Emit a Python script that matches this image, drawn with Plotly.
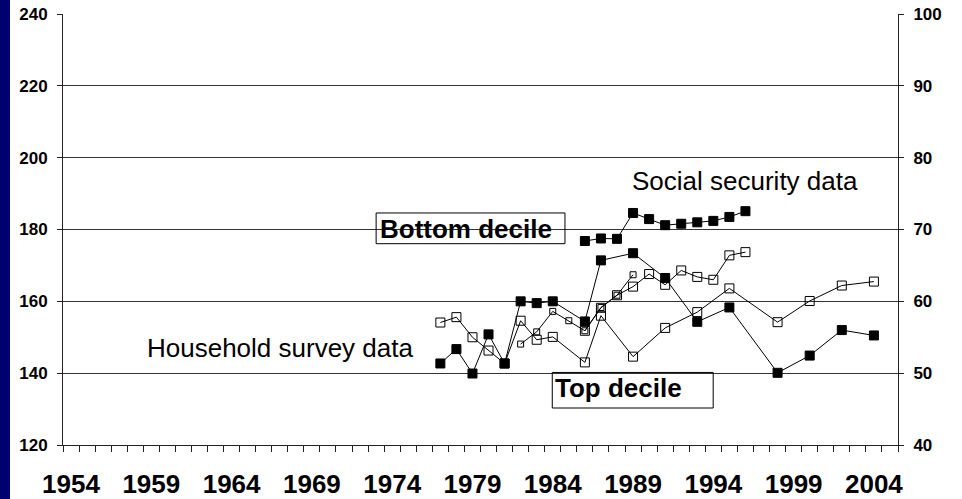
import plotly.graph_objects as go

# ---------------- data ----------------
# Social security data (annual)
ss_years = [1986, 1987, 1988, 1989, 1990, 1991, 1992, 1993, 1994, 1995, 1996]
ss_bottom = [68.4, 68.75, 68.7, 72.3, 71.45, 70.6, 70.8, 71.0, 71.2, 71.75, 72.55]   # right axis
ss_top = [151.8, 158.2, 161.7, 164.1, 167.6, 164.6, 168.6, 166.8, 166.0, 172.8, 173.7]  # left axis

ss_alt_years = [1982, 1983, 1984, 1985, 1986, 1987, 1988, 1989]
ss_top_alt = [148.1, 151.5, 157.2, 154.6, 151.8, 158.3, 161.7, 167.4]  # left axis

# Household survey data
hh_years = [1977, 1978, 1979, 1980, 1981, 1982, 1983, 1984, 1986, 1987,
            1989, 1991, 1993, 1995, 1998, 2000, 2002, 2004]
hh_bottom = [51.35, 53.35, 49.95, 55.4, 51.35, 60.0, 59.75, 60.0, 57.2, 65.7,
             66.7, 63.25, 57.15, 59.15, 50.05, 52.45, 56.0, 55.25]  # right axis
hh_top = [154.1, 155.6, 150.0, 146.3, 142.7, 154.6, 149.3, 150.1, 143.0, 156.0,
          144.6, 152.6, 157.0, 163.6, 154.2, 160.1, 164.4, 165.5]  # left axis

x_tick_years = [1954, 1959, 1964, 1969, 1974, 1979, 1984, 1989, 1994, 1999, 2004]
left_ticks = [120, 140, 160, 180, 200, 220, 240]
right_ticks = [40, 50, 60, 70, 80, 90, 100]

FONT = "Liberation Sans, Arial, sans-serif"

fig = go.Figure()

def add(x, y, axis, symbol, size):
    fig.add_trace(go.Scatter(
        x=x, y=y, yaxis=axis, mode="lines+markers",
        line=dict(color="black", width=1),
        marker=dict(symbol=symbol, size=size, color="black",
                    line=dict(color="black", width=1)),
        showlegend=False, hoverinfo="x+y"))

add(hh_years, hh_top, "y", "square-open", 9)
add(ss_alt_years, ss_top_alt, "y", "square-open", 6)
add(ss_years, ss_top, "y", "square-open", 9)
add(hh_years, hh_bottom, "y2", "square", 9)
add(ss_years, ss_bottom, "y2", "square", 9)

# text labels
fig.add_annotation(x=1958.6, y=147.1, xref="x", yref="y", text="Household survey data",
                   showarrow=False, xanchor="left", yanchor="middle",
                   font=dict(family=FONT, size=26, color="black"))
fig.add_annotation(x=1988.8, y=193.4, xref="x", yref="y", text="Social security data",
                   showarrow=False, xanchor="left", yanchor="middle",
                   font=dict(family=FONT, size=26, color="black"))
fig.add_annotation(x=1973.1, y=180.1, xref="x", yref="y", text="Bottom decile",
                   showarrow=False, xanchor="left", yanchor="middle",
                   font=dict(family=FONT, size=26, color="black", weight="bold"))
fig.add_annotation(x=1984.0, y=136.0, xref="x", yref="y", text="Top decile",
                   showarrow=False, xanchor="left", yanchor="middle",
                   font=dict(family=FONT, size=26, color="black", weight="bold"))

# boxes around the decile labels
fig.add_shape(type="rect", xref="x", yref="y", x0=1973.0, x1=1984.76, y0=176.05, y1=184.6,
              line=dict(color="black", width=1), fillcolor="rgba(0,0,0,0)")
fig.add_shape(type="rect", xref="x", yref="y", x0=1983.97, x1=1993.99, y0=130.3, y1=140.2,
              line=dict(color="black", width=1), fillcolor="rgba(0,0,0,0)")

# navy strip at the left edge
fig.add_shape(type="rect", xref="paper", yref="paper", x0=-0.0760, x1=-0.0635,
              y0=-0.2, y1=1.1, line=dict(width=0), fillcolor="#00006e", layer="below")

fig.update_layout(
    width=962, height=499,
    margin=dict(l=63, r=64, t=14, b=54),
    paper_bgcolor="white", plot_bgcolor="white",
    font=dict(family=FONT, color="black"),
    xaxis=dict(
        range=[1953.5, 2005.5], tickmode="array", tickvals=x_tick_years,
        ticktext=[str(v) for v in x_tick_years], automargin=False,
        ticks="", ticklabelstandoff=16,
        tickfont=dict(family=FONT, size=26, color="black", weight="bold"),
        showgrid=False, zeroline=False, showline=True, linecolor="#222", linewidth=1,
        minor=dict(tickmode="array", tickvals=[1953.5 + i for i in range(53)],
                   ticks="outside", ticklen=6, tickcolor="#222", tickwidth=1, showgrid=False),
    ),
    yaxis=dict(
        range=[120, 240], tickmode="array", tickvals=left_ticks, automargin=False,
        ticks="outside", ticklen=5, tickcolor="#222", ticklabelstandoff=6,
        tickfont=dict(family=FONT, size=17, color="black", weight="bold"),
        showgrid=True, gridcolor="#333", gridwidth=1, zeroline=False,
        showline=True, linecolor="#222", linewidth=1,
    ),
    yaxis2=dict(
        range=[40, 100], tickmode="array", tickvals=right_ticks, overlaying="y", side="right",
        automargin=False, ticks="outside", ticklen=5, tickcolor="#222", ticklabelstandoff=6,
        tickfont=dict(family=FONT, size=17, color="black", weight="bold"),
        showgrid=False, zeroline=False, showline=True, linecolor="#222", linewidth=1,
    ),
)

fig.write_html("out.html", config={"displayModeBar": False},
               post_script="document.body.style.margin='0';document.body.style.overflow='hidden';")
